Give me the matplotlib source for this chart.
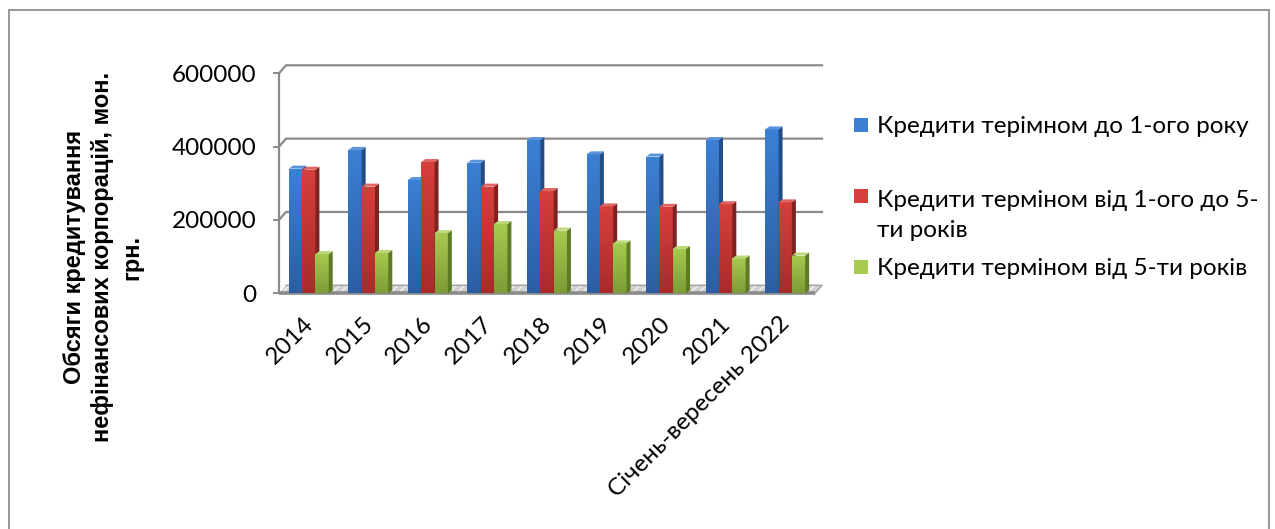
import numpy as np
import matplotlib
matplotlib.use("Agg")
import matplotlib.pyplot as plt
from matplotlib.patches import Rectangle, Polygon
from matplotlib.colors import LinearSegmentedColormap
from matplotlib.transforms import ScaledTranslation

# ---- data -------------------------------------------------------------
categories = ["2014", "2015", "2016", "2017", "2018", "2019", "2020", "2021",
              "Січень-вересень 2022"]
short_term = [340000, 391000, 309000, 356000, 418000, 379000, 373000, 418000, 447000]
mid_term = [337000, 291000, 358000, 291000, 279000, 237000, 236000, 243000, 248000]
long_term = [107000, 110000, 164000, 189000, 171000, 136000, 121000, 95000, 103000]
series_names = ["Кредити терімном до 1-ого року",
                "Кредити терміном від 1-ого до 5-\nти років",
                "Кредити терміном від 5-ти років"]
y_ticks = [0, 200000, 400000, 600000]
y_title = "Обсяги кредитування\nнефінансових корпорацій, мон.\nгрн."

# ---- styling ------------------------------------------------------------
TXT_FONT = ["Lato", "DejaVu Sans"]
TITLE_FONT = ["Liberation Sans", "DejaVu Sans"]
GRID = "#8a8a8a"
# (dark, light, side, top) per series
palette = [
    ("#2c5ea3", "#3c80d4", "#244d88", "#5a93dc"),
    ("#a82c2b", "#d63f3c", "#7e2221", "#e06462"),
    ("#7c9c35", "#a6cb50", "#5d7a24", "#bcd878"),
]

W, H, DPI = 1275, 529, 100
fig = plt.figure(figsize=(W / DPI, H / DPI), dpi=DPI)
fig.patch.set_facecolor("white")

# front plane of the plot area (pixel geometry)
x_left, x_right = 279, 815
y_zero, y_top = 293.3, 73.3
ax = fig.add_axes([x_left / W, (H - y_zero) / H,
                   (x_right - x_left) / W, (y_zero - y_top) / H])
n = len(categories)
ax.set_xlim(-0.5, n - 0.5)
ax.set_ylim(0, 600000)

# pixel -> data conversion factors
px_x = n / (x_right - x_left)
px_y = 600000 / (y_zero - y_top)

# back wall / floor depth offset
wdx, wdy = 7 * px_x, 8 * px_y
# bar depth offset
bdx, bdy = 4 * px_x, 3 * px_y

# floor slab
floor = Polygon([(-0.5, 0), (n - 0.5, 0), (n - 0.5 + wdx, wdy), (-0.5 + wdx, wdy)],
                closed=True, facecolor="#cfcfcf", edgecolor="none",
                clip_on=False, zorder=1)
ax.add_patch(floor)
floor_h = Polygon(floor.get_xy(), closed=True, facecolor="none",
                  edgecolor="#f2f2f2", hatch="////", linewidth=0,
                  clip_on=False, zorder=1.1)
ax.add_patch(floor_h)
ax.plot([-0.5 + wdx, n - 0.5 + wdx, n - 0.5], [wdy, wdy, 0], color="#a0a0a0",
        lw=1.0, clip_on=False, zorder=1.2)
ax.plot([-0.5, n - 0.5], [0, 0], color=GRID, lw=2.6, clip_on=False, zorder=1.3,
        solid_capstyle="butt")

# back-wall gridlines with connectors to the front axis
for v in y_ticks[1:]:
    ax.plot([-0.5, -0.5 + wdx, n - 0.5 + wdx], [v, v + wdy, v + wdy],
            color=GRID, lw=1.6, clip_on=False, zorder=0.5)

# bars with depth faces and a vertical gradient on the front face
bar_w = 0.2233
offsets = [-bar_w, 0.0, bar_w]
all_series = [short_term, mid_term, long_term]
grad = np.linspace(1, 0, 256).reshape(-1, 1)
z = 2.0
for i in range(n):
    for s, vals in enumerate(all_series):
        dark, light, side, top = palette[s]
        h = vals[i]
        x0 = i + offsets[s] - bar_w / 2
        x1 = x0 + bar_w
        cont = ax.bar(x0, h, width=bar_w, align="edge", color=light,
                      edgecolor="none", zorder=z)
        rect = cont.patches[0]
        cmap = LinearSegmentedColormap.from_list("g%d" % s, [dark, light])
        im = ax.imshow(grad, extent=(x0, x1, 0, h), origin="upper", cmap=cmap,
                       aspect="auto", zorder=z + 0.01, interpolation="bilinear")
        im.set_clip_path(rect)
        ax.add_patch(Polygon([(x1, 0), (x1 + bdx, bdy), (x1 + bdx, h + bdy), (x1, h)],
                             closed=True, facecolor=side, edgecolor="none",
                             zorder=z + 0.02))
        ax.add_patch(Polygon([(x0, h), (x1, h), (x1 + bdx, h + bdy), (x0 + bdx, h + bdy)],
                             closed=True, facecolor=top, edgecolor="none",
                             zorder=z + 0.02))
        z += 0.1

ax.set_xlim(-0.5, n - 0.5)
ax.set_ylim(0, 600000)

# axes: only the front vertical axis is drawn as a spine
for sp in ["top", "right", "bottom"]:
    ax.spines[sp].set_visible(False)
ax.spines["left"].set_color(GRID)
ax.spines["left"].set_linewidth(1.6)
ax.set_facecolor("none")
ax.set_yticks(y_ticks)
ax.set_yticklabels([str(v) for v in y_ticks], fontsize=17.5, family=TXT_FONT)
ax.tick_params(axis="y", length=4, width=1.4, color=GRID, pad=12)
ax.set_xticks(range(n))
ax.set_xticklabels(categories, rotation=45, ha="right", va="top",
                   rotation_mode="anchor", fontsize=17.5, family=TXT_FONT)
ax.tick_params(axis="x", length=0, pad=14)
shift = ScaledTranslation(-6 / DPI, 0, fig.dpi_scale_trans)
for lab in ax.get_xticklabels():
    lab.set_transform(lab.get_transform() + shift)

# axis title
fig.text(103 / W, (H - 257) / H, y_title, rotation=90, ha="center", va="center",
         multialignment="center", fontsize=17, fontweight="bold",
         family=TITLE_FONT, linespacing=1.3)

# legend: square sits on the first text line; text is placed by its last baseline
leg_first = [133, 204, 275]
leg_last = [133, 237, 275]
for s, name in enumerate(series_names):
    fig.patches.append(Rectangle((854 / W, (H - leg_first[s] + 1) / H), 14 / W, 14 / H,
                                 transform=fig.transFigure,
                                 facecolor=palette[s][1], edgecolor="none"))
    fig.text(877 / W, (H - leg_last[s]) / H, name, ha="left", va="baseline",
             fontsize=17.5, family=TXT_FONT, linespacing=1.52)

# outer chart border
fig.patches.append(Rectangle((9 / W, -0.05), (1269 - 9) / W, (H - 10) / H + 0.05,
                             transform=fig.transFigure, facecolor="none",
                             edgecolor="#868686", linewidth=1.2))

fig.savefig("out.png", dpi=DPI)
